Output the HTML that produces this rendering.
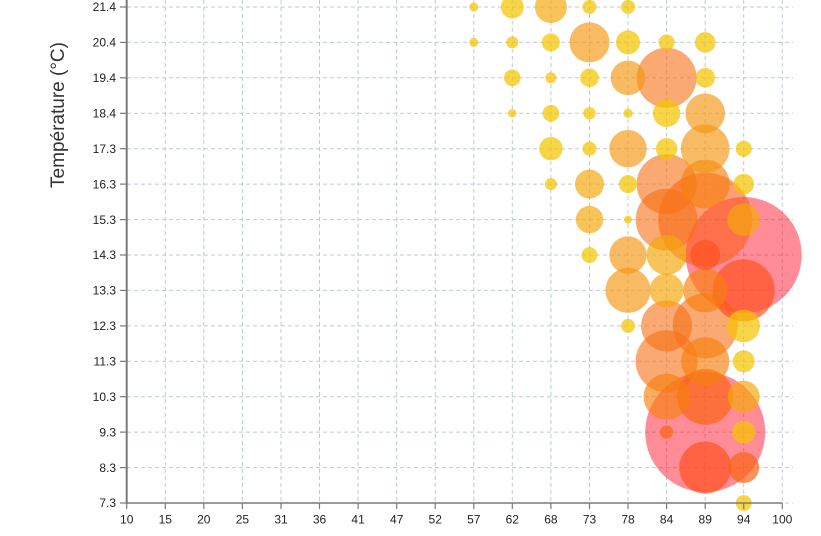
<!DOCTYPE html>
<html><head><meta charset="utf-8">
<style>
html,body{margin:0;padding:0;background:#fff;}
svg{display:block;}
text{font-family:"Liberation Sans",Arial,sans-serif;}
.t{font-size:12px;fill:#222;}
.g{stroke:#bccbd9;stroke-width:1;stroke-dasharray:4,3;fill:none;}
.Y{fill:rgba(245,195,0,0.72);}
.YO{fill:rgba(245,168,10,0.68);}
.O{fill:rgba(245,150,15,0.65);}
.O2{fill:rgba(248,128,12,0.65);}
.S{fill:rgba(247,112,20,0.6);}
.R{fill:rgba(255,80,30,0.68);}
.R2{fill:rgba(250,95,25,0.6);}
.R3{fill:rgba(250,100,20,0.7);}
.P{fill:rgba(255,25,45,0.5);}
</style></head>
<body>
<svg width="821" height="536" viewBox="0 0 821 536" xmlns="http://www.w3.org/2000/svg">
<g class="g">
<line x1="165.3" y1="0" x2="165.3" y2="503"/>
<line x1="203.8" y1="0" x2="203.8" y2="503"/>
<line x1="242.4" y1="0" x2="242.4" y2="503"/>
<line x1="281.0" y1="0" x2="281.0" y2="503"/>
<line x1="319.5" y1="0" x2="319.5" y2="503"/>
<line x1="358.1" y1="0" x2="358.1" y2="503"/>
<line x1="396.7" y1="0" x2="396.7" y2="503"/>
<line x1="435.2" y1="0" x2="435.2" y2="503"/>
<line x1="473.8" y1="0" x2="473.8" y2="503"/>
<line x1="512.3" y1="0" x2="512.3" y2="503"/>
<line x1="550.9" y1="0" x2="550.9" y2="503"/>
<line x1="589.5" y1="0" x2="589.5" y2="503"/>
<line x1="628.0" y1="0" x2="628.0" y2="503"/>
<line x1="666.6" y1="0" x2="666.6" y2="503"/>
<line x1="705.2" y1="0" x2="705.2" y2="503"/>
<line x1="743.7" y1="0" x2="743.7" y2="503"/>
<line x1="782.3" y1="0" x2="782.3" y2="503"/>
</g>
<g class="g">
<line x1="127" y1="503" x2="793" y2="503"/>
<line x1="127" y1="467.6" x2="793" y2="467.6"/>
<line x1="127" y1="432.1" x2="793" y2="432.1"/>
<line x1="127" y1="396.7" x2="793" y2="396.7"/>
<line x1="127" y1="361.3" x2="793" y2="361.3"/>
<line x1="127" y1="325.9" x2="793" y2="325.9"/>
<line x1="127" y1="290.4" x2="793" y2="290.4"/>
<line x1="127" y1="255.0" x2="793" y2="255.0"/>
<line x1="127" y1="219.6" x2="793" y2="219.6"/>
<line x1="127" y1="184.1" x2="793" y2="184.1"/>
<line x1="127" y1="148.7" x2="793" y2="148.7"/>
<line x1="127" y1="113.3" x2="793" y2="113.3"/>
<line x1="127" y1="77.8" x2="793" y2="77.8"/>
<line x1="127" y1="42.4" x2="793" y2="42.4"/>
<line x1="127" y1="7.0" x2="793" y2="7.0"/>
</g>

<circle class="P" cx="705.2" cy="432.1" r="60"/>
<circle class="P" cx="743.7" cy="255.0" r="58"/>
<circle class="R2" cx="705.2" cy="219.6" r="47"/>
<circle class="S" cx="705.2" cy="325.9" r="32.5"/>
<circle class="S" cx="666.6" cy="219.6" r="31"/>
<circle class="S" cx="666.6" cy="361.3" r="31"/>
<circle class="R" cx="743.7" cy="290.4" r="31"/>
<circle class="S" cx="666.6" cy="77.8" r="30"/>
<circle class="S" cx="666.6" cy="184.1" r="30"/>
<circle class="R3" cx="705.2" cy="396.7" r="28"/>
<circle class="R" cx="705.2" cy="467.6" r="26"/>
<circle class="S" cx="666.6" cy="325.9" r="25.5"/>
<circle class="O2" cx="705.2" cy="184.1" r="24.5"/>
<circle class="O" cx="705.2" cy="148.7" r="24.3"/>
<circle class="O2" cx="705.2" cy="361.3" r="24"/>
<circle class="O2" cx="666.6" cy="396.7" r="23"/>
<circle class="O" cx="628.0" cy="290.4" r="22.5"/>
<circle class="O2" cx="705.2" cy="290.4" r="22"/>
<circle class="O" cx="589.5" cy="42.4" r="20"/>
<circle class="YO" cx="666.6" cy="255.0" r="20"/>
<circle class="O" cx="705.2" cy="113.3" r="19.8"/>
<circle class="O" cx="628.0" cy="148.7" r="18.7"/>
<circle class="O" cx="628.0" cy="255.0" r="18.7"/>
<circle class="O" cx="628.0" cy="77.8" r="17.3"/>
<circle class="YO" cx="666.6" cy="290.4" r="17"/>
<circle class="YO" cx="743.7" cy="219.6" r="16.3"/>
<circle class="Y" cx="743.7" cy="325.9" r="16.3"/>
<circle class="YO" cx="550.9" cy="7.0" r="16"/>
<circle class="YO" cx="743.7" cy="396.7" r="16"/>
<circle class="R3" cx="743.7" cy="467.6" r="15.5"/>
<circle class="R" cx="705.2" cy="255.0" r="15"/>
<circle class="YO" cx="589.5" cy="184.1" r="14.5"/>
<circle class="Y" cx="666.6" cy="113.3" r="13.7"/>
<circle class="YO" cx="589.5" cy="219.6" r="13.7"/>
<circle class="Y" cx="628.0" cy="42.4" r="12"/>
<circle class="Y" cx="550.9" cy="148.7" r="11.7"/>
<circle class="Y" cx="512.3" cy="7.0" r="11.5"/>
<circle class="Y" cx="743.7" cy="432.1" r="11.5"/>
<circle class="Y" cx="743.7" cy="361.3" r="11"/>
<circle class="Y" cx="666.6" cy="148.7" r="10.7"/>
<circle class="Y" cx="705.2" cy="42.4" r="10.3"/>
<circle class="Y" cx="743.7" cy="184.1" r="10.3"/>
<circle class="Y" cx="705.2" cy="77.8" r="9.8"/>
<circle class="Y" cx="589.5" cy="77.8" r="9.3"/>
<circle class="Y" cx="550.9" cy="42.4" r="9"/>
<circle class="Y" cx="628.0" cy="184.1" r="9"/>
<circle class="Y" cx="512.3" cy="77.8" r="8.3"/>
<circle class="Y" cx="550.9" cy="113.3" r="8.3"/>
<circle class="Y" cx="666.6" cy="42.4" r="8"/>
<circle class="Y" cx="743.7" cy="148.7" r="8"/>
<circle class="Y" cx="589.5" cy="255.0" r="8"/>
<circle class="Y" cx="743.7" cy="503" r="8"/>
<circle class="Y" cx="589.5" cy="7.0" r="7"/>
<circle class="Y" cx="628.0" cy="7.0" r="7"/>
<circle class="Y" cx="589.5" cy="148.7" r="7"/>
<circle class="Y" cx="628.0" cy="325.9" r="7"/>
<circle class="R3" cx="666.6" cy="432.1" r="6.7"/>
<circle class="Y" cx="589.5" cy="113.3" r="6.2"/>
<circle class="Y" cx="512.3" cy="42.4" r="6"/>
<circle class="Y" cx="550.9" cy="184.1" r="6"/>
<circle class="Y" cx="550.9" cy="77.8" r="5.5"/>
<circle class="Y" cx="628.0" cy="113.3" r="4.7"/>
<circle class="Y" cx="473.8" cy="7.0" r="4.5"/>
<circle class="Y" cx="473.8" cy="42.4" r="4.5"/>
<circle class="Y" cx="512.3" cy="113.3" r="4.2"/>
<circle class="Y" cx="628.0" cy="219.6" r="4"/>

<line x1="126.7" y1="0" x2="126.7" y2="504" stroke="#7a7a7a" stroke-width="2"/>
<line x1="126" y1="503" x2="782.3" y2="503" stroke="#7a7a7a" stroke-width="1.5"/>
<g stroke="#7a7a7a" stroke-width="1.2">
<line x1="120" y1="503" x2="127" y2="503"/>
<line x1="120" y1="467.6" x2="127" y2="467.6"/>
<line x1="120" y1="432.1" x2="127" y2="432.1"/>
<line x1="120" y1="396.7" x2="127" y2="396.7"/>
<line x1="120" y1="361.3" x2="127" y2="361.3"/>
<line x1="120" y1="325.9" x2="127" y2="325.9"/>
<line x1="120" y1="290.4" x2="127" y2="290.4"/>
<line x1="120" y1="255.0" x2="127" y2="255.0"/>
<line x1="120" y1="219.6" x2="127" y2="219.6"/>
<line x1="120" y1="184.1" x2="127" y2="184.1"/>
<line x1="120" y1="148.7" x2="127" y2="148.7"/>
<line x1="120" y1="113.3" x2="127" y2="113.3"/>
<line x1="120" y1="77.8" x2="127" y2="77.8"/>
<line x1="120" y1="42.4" x2="127" y2="42.4"/>
<line x1="120" y1="7.0" x2="127" y2="7.0"/>
</g>
<g stroke="#7a7a7a" stroke-width="1.2">
<line x1="126.7" y1="503" x2="126.7" y2="509"/>
<line x1="165.3" y1="503" x2="165.3" y2="509"/>
<line x1="203.8" y1="503" x2="203.8" y2="509"/>
<line x1="242.4" y1="503" x2="242.4" y2="509"/>
<line x1="281.0" y1="503" x2="281.0" y2="509"/>
<line x1="319.5" y1="503" x2="319.5" y2="509"/>
<line x1="358.1" y1="503" x2="358.1" y2="509"/>
<line x1="396.7" y1="503" x2="396.7" y2="509"/>
<line x1="435.2" y1="503" x2="435.2" y2="509"/>
<line x1="473.8" y1="503" x2="473.8" y2="509"/>
<line x1="512.3" y1="503" x2="512.3" y2="509"/>
<line x1="550.9" y1="503" x2="550.9" y2="509"/>
<line x1="589.5" y1="503" x2="589.5" y2="509"/>
<line x1="628.0" y1="503" x2="628.0" y2="509"/>
<line x1="666.6" y1="503" x2="666.6" y2="509"/>
<line x1="705.2" y1="503" x2="705.2" y2="509"/>
<line x1="743.7" y1="503" x2="743.7" y2="509"/>
<line x1="782.3" y1="503" x2="782.3" y2="509"/>
</g>

<g class="t" text-anchor="end">
<text x="116" y="507.2">7.3</text>
<text x="116" y="471.8">8.3</text>
<text x="116" y="436.3">9.3</text>
<text x="116" y="400.9">10.3</text>
<text x="116" y="365.5">11.3</text>
<text x="116" y="330.1">12.3</text>
<text x="116" y="294.6">13.3</text>
<text x="116" y="259.2">14.3</text>
<text x="116" y="223.8">15.3</text>
<text x="116" y="188.3">16.3</text>
<text x="116" y="152.9">17.3</text>
<text x="116" y="117.5">18.4</text>
<text x="116" y="82.0">19.4</text>
<text x="116" y="46.6">20.4</text>
<text x="116" y="11.2">21.4</text>
</g>
<g class="t" text-anchor="middle">
<text x="126.7" y="523.5">10</text>
<text x="165.3" y="523.5">15</text>
<text x="203.8" y="523.5">20</text>
<text x="242.4" y="523.5">25</text>
<text x="281.0" y="523.5">31</text>
<text x="319.5" y="523.5">36</text>
<text x="358.1" y="523.5">41</text>
<text x="396.7" y="523.5">47</text>
<text x="435.2" y="523.5">52</text>
<text x="473.8" y="523.5">57</text>
<text x="512.3" y="523.5">62</text>
<text x="550.9" y="523.5">68</text>
<text x="589.5" y="523.5">73</text>
<text x="628.0" y="523.5">78</text>
<text x="666.6" y="523.5">84</text>
<text x="705.2" y="523.5">89</text>
<text x="743.7" y="523.5">94</text>
<text x="782.3" y="523.5">100</text>
</g>

<text x="0" y="0" transform="translate(64,115) rotate(-90)" text-anchor="middle" font-size="19" fill="#333">Température (°C)</text>
</svg>
</body></html>
